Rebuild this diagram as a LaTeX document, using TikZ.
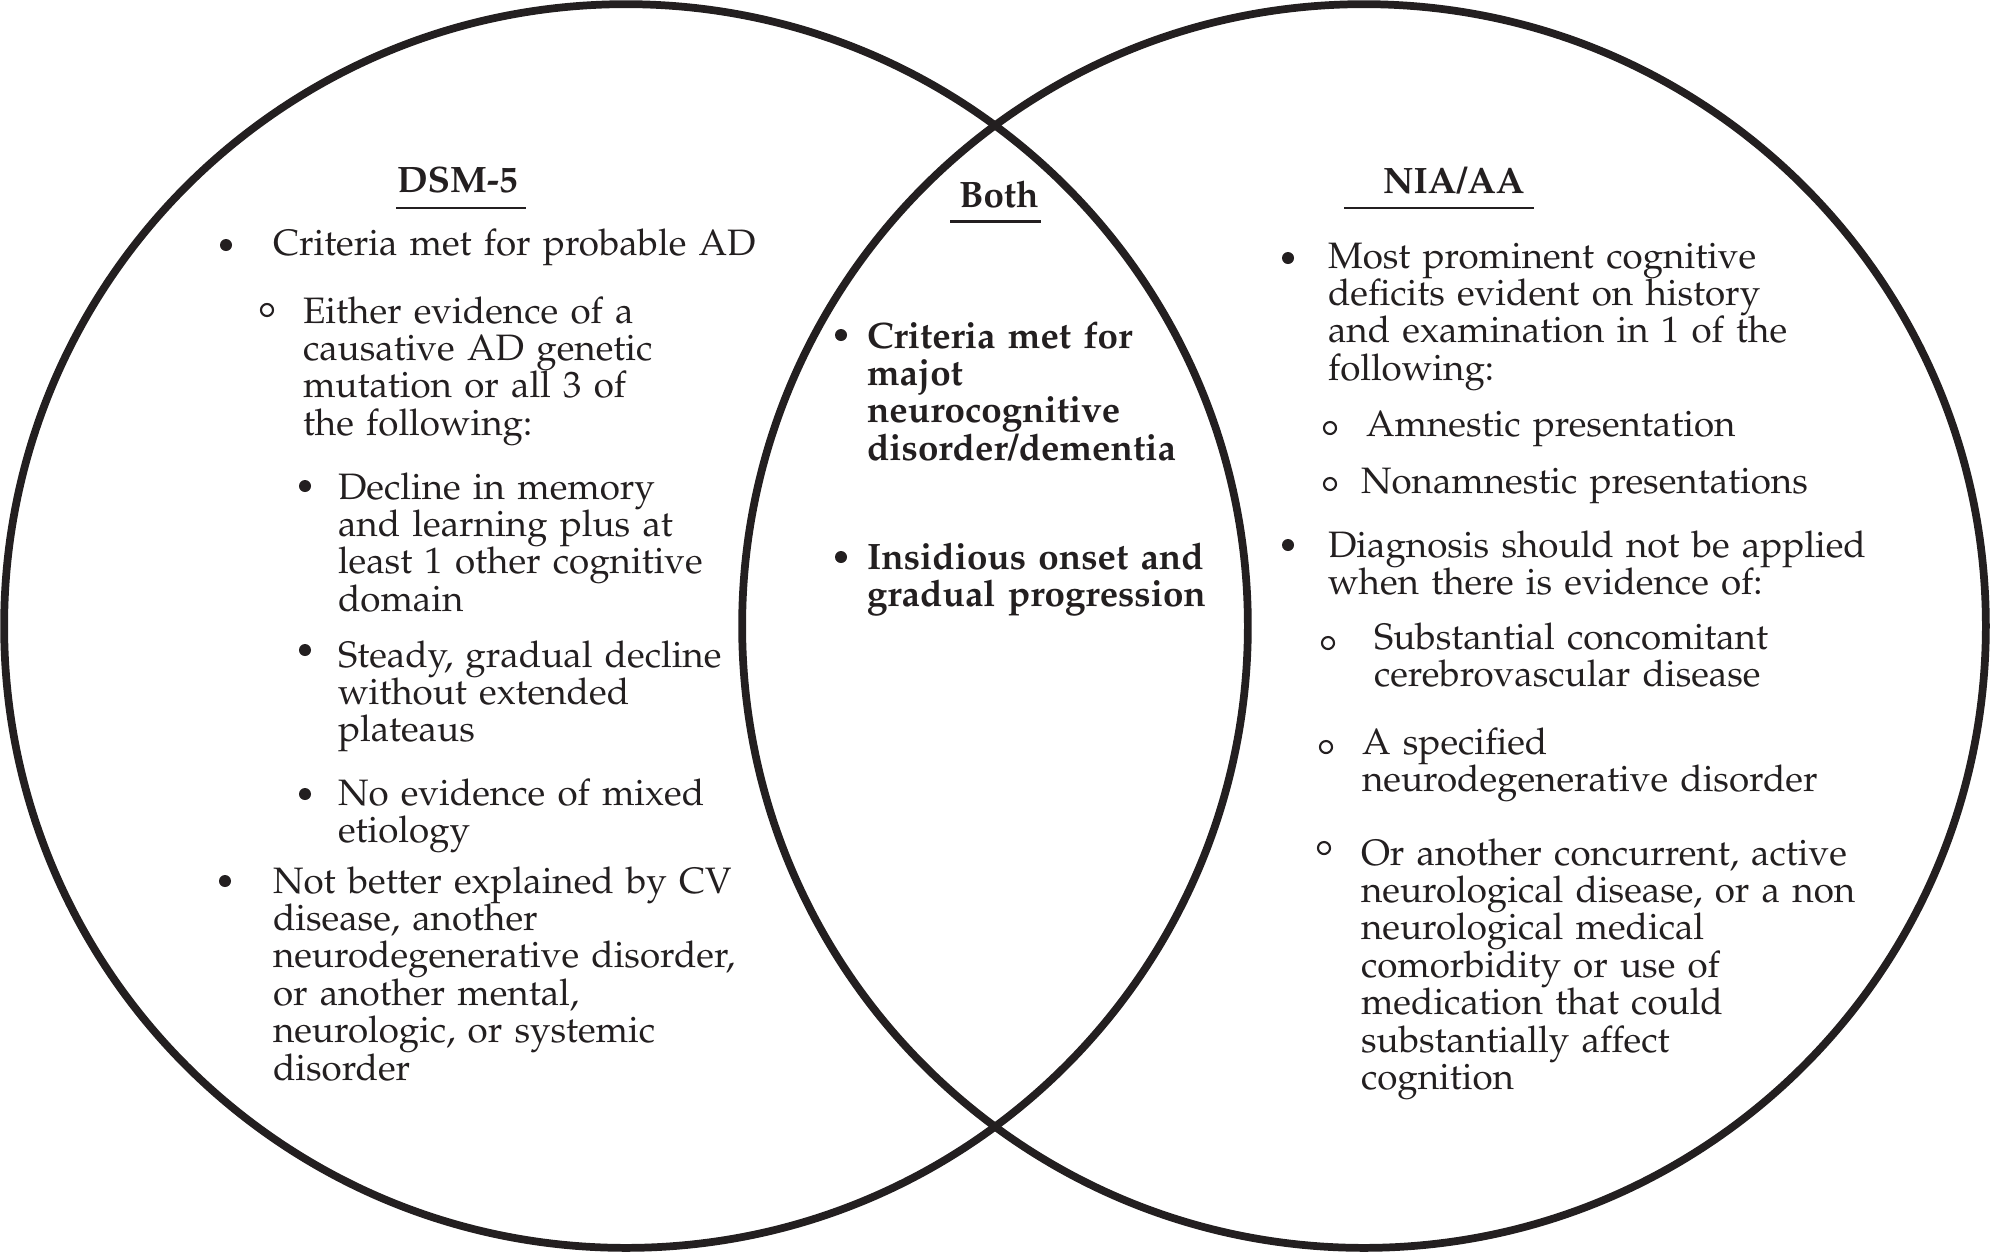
\documentclass[tikz,border=0pt]{standalone}
\usepackage[T1]{fontenc}
\usepackage{mathpazo}
\usetikzlibrary{positioning}
\definecolor{inkblack}{HTML}{231F20}
\newcommand{\bodysize}{\fontsize{10.45}{10.64}\selectfont\lineskiplimit-20pt\relax}

\begin{document}
\begin{tikzpicture}[
    x=0.01cm, y=-0.01cm,
    every node/.style={inner sep=0pt, outer sep=0pt, text=inkblack},
    ring/.style={line width=2.2pt, draw=inkblack},                  % grand cercle
    txt/.style={anchor=base west, align=left, text width=7cm, font=\bodysize},
    txtb/.style={txt, font=\bodysize\bfseries},
    hdr/.style={anchor=base west, font=\bodysize\bfseries},
    dot/.style={circle, fill=inkblack, minimum size=0.12cm},
    odot/.style={circle, draw=inkblack, line width=0.6pt, minimum size=0.12cm},
    uline/.style={line width=0.8pt, draw=inkblack}
  ]
  \useasboundingbox (0,0) rectangle (1991,1253);

  % ============ les deux cercles ========================================
  \draw[ring] (626,626) circle[radius=6.215cm];
  \draw[ring] (1364,626) circle[radius=6.215cm];

  % ============ CERCLE GAUCHE : DSM-5 ====================================
  \node[hdr] (dsm) at (397,192) {DSM-5};
  \draw[uline] (396,208) -- (526,208);

  \node[dot] (pA) at (226,245) {};
  \node[txt] (tA) at (273,255) {Criteria met for probable AD};
  \node[odot] (pB) at (267,310) {};
  \node[txt] (tB) at (303,323) {Either evidence of a\\causative AD genetic\\mutation or all 3 of\\the following:};
  \node[dot] (pC) at (305,486) {};
  \node[txt] (tC) at (338,499) {Decline in memory\\and learning plus at\\least 1 other cognitive\\domain};
  \node[dot] (pD) at (305,650) {};
  \node[txt] (tD) at (338,667) {Steady, gradual decline\\without extended\\plateaus};
  \node[dot] (pE) at (305,794) {};
  \node[txt] (tE) at (338,805) {No evidence of mixed\\etiology};
  \node[dot] (pF) at (225,881) {};
  \node[txt] (tF) at (273,893) {Not better explained by CV\\disease, another\\neurodegenerative disorder,\\or another mental,\\neurologic, or systemic\\disorder};

  % ============ INTERSECTION : les deux ==================================
  \node[hdr] (both) at (959,207) {Both};
  \draw[uline] (950,221.5) -- (1041,221.5);

  \node[dot] (pG) at (841,335) {};
  \node[txtb] (tG) at (867,348) {Criteria met for\\majot\\neurocognitive\\disorder/dementia};
  \node[dot] (pH) at (841,557) {};
  \node[txtb] (tH) at (867,569) {Insidious onset and\\gradual progression};

  % ============ CERCLE DROIT : NIA/AA ====================================
  \node[hdr] (nia) at (1383,193) {NIA/AA};
  \draw[uline] (1344,208) -- (1534,208);

  \node[dot] (pI) at (1288,258) {};
  \node[txt] (tI) at (1328,268) {Most prominent cognitive\\deficits evident on history\\and examination in 1 of the\\following:};
  \node[odot] (pJ) at (1330,428) {};
  \node[txt] (tJ) at (1366,436) {Amnestic presentation};
  \node[odot] (pK) at (1330,484) {};
  \node[txt] (tK) at (1361,493) {Nonamnestic presentations};
  \node[dot] (pL) at (1288,545) {};
  \node[txt] (tL) at (1328,557) {Diagnosis should not be applied\\when there is evidence of:};
  \node[odot] (pM) at (1328,643) {};
  \node[txt] (tM) at (1374,649) {Substantial concomitant\\cerebrovascular disease};
  \node[odot] (pN) at (1326,747) {};
  \node[txt] (tN) at (1362,754) {A specified\\neurodegenerative disorder};
  \node[odot] (pO) at (1324,848) {};
  \node[txt] (tO) at (1361,865) {Or another concurrent, active\\neurological disease, or a non\\neurological medical\\comorbidity or use of\\medication that could\\substantially affect\\cognition};

\end{tikzpicture}
\end{document}
